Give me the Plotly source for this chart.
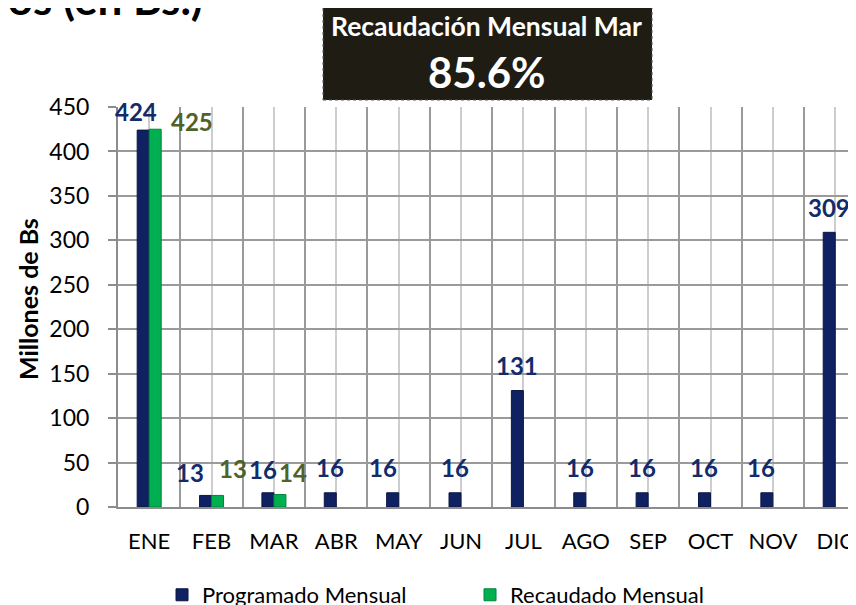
import plotly.graph_objects as go

# ---------------- data ----------------
meses = ["ENE", "FEB", "MAR", "ABR", "MAY", "JUN", "JUL", "AGO", "SEP", "OCT", "NOV", "DIC"]
programado = [424, 13, 16, 16, 16, 16, 131, 16, 16, 16, 16, 309]
recaudado = [425, 13, 14, None, None, None, None, None, None, None, None, None]
y_ticks = [0, 50, 100, 150, 200, 250, 300, 350, 400, 450]
titulo = "Recaudación Mensual de Tributos (en Bs.)"
caja_titulo = "Recaudación Mensual Mar"
caja_valor = "85.6%"

# ---------------- style ----------------
FONT = "Lato, Carlito, Calibri, sans-serif"
NAVY = "#0f2161"
GREEN = "#00b050"
NAVY_TXT = "#112b6b"
GREEN_TXT = "#4f6228"
BARGAP = 0.615
half = (1 - BARGAP) / 4  # centre offset of each bar in a 2-bar group

# label nudges in pixels (dx, dy above bar top)
navy_nudge = {0: (-7, 19), 1: (-16, 23), 2: (-5, 23), 4: (-10, 25), 10: (-6, 25)}
green_nudge = {0: (37, 8), 1: (15, 27), 2: (13, 22)}

x = list(range(len(meses)))

fig = go.Figure()
fig.add_trace(go.Bar(
    x=x, y=programado, name="Programado Mensual",
    marker=dict(color=NAVY, line=dict(color="#0a1745", width=1)),
))
fig.add_trace(go.Bar(
    x=x, y=recaudado, name="Recaudado Mensual",
    marker=dict(color=GREEN, line=dict(color="#00843c", width=1)),
))

annotations = []
for i, v in enumerate(programado):
    dx, dy = navy_nudge.get(i, (0, 25))
    annotations.append(dict(
        x=i - half, y=v, xref="x", yref="y", text=f"<b>{v}</b>", showarrow=False,
        xanchor="center", yanchor="middle", xshift=dx, yshift=dy,
        font=dict(family=FONT, size=24, color=NAVY_TXT)))
for i, v in enumerate(recaudado):
    if v is None:
        continue
    dx, dy = green_nudge.get(i, (0, 25))
    annotations.append(dict(
        x=i + half, y=v, xref="x", yref="y", text=f"<b>{v}</b>", showarrow=False,
        xanchor="center", yanchor="middle", xshift=dx, yshift=dy,
        font=dict(family=FONT, size=24, color=GREEN_TXT)))

# y-axis title
annotations.append(dict(
    x=-0.122, y=0.52, xref="paper", yref="paper", text="<b>Millones de Bs</b>",
    textangle=-90, showarrow=False, xanchor="center", yanchor="middle",
    font=dict(family=FONT, size=25, color="#000000")))

# cropped main title
annotations.append(dict(
    x=0.1179, y=1.272, xref="paper", yref="paper", text=f"<b>{titulo}</b>",
    showarrow=False, xanchor="right", yanchor="middle",
    font=dict(family=FONT, size=44, color="#000000")))

# dark box texts
annotations.append(dict(
    x=0.4994, y=1.202, xref="paper", yref="paper", text=f"<b>{caja_titulo}</b>",
    showarrow=False, xanchor="center", yanchor="middle",
    font=dict(family=FONT, size=26.5, color="#ffffff")))
annotations.append(dict(
    x=0.4994, y=1.088, xref="paper", yref="paper", text=f"<b>{caja_valor}</b>",
    showarrow=False, xanchor="center", yanchor="middle",
    font=dict(family=FONT, size=42, color="#ffffff")))

shapes = [dict(
    type="rect", xref="paper", yref="paper",
    x0=0.2778, x1=0.7236, y0=1.0175, y1=1.255,
    fillcolor="#1f1c13", line=dict(color="#555555", width=1, dash="dot"),
    layer="above")]

# the page adds an 8 px body margin, so the figure is laid out 8 px smaller
fig.update_layout(
    width=848, height=597,
    margin=dict(l=110, r=0, t=99, b=98, autoexpand=False),
    paper_bgcolor="#ffffff", plot_bgcolor="#ffffff",
    barmode="group", bargap=BARGAP, bargroupgap=0,
    font=dict(family=FONT, size=22, color="#000000"),
    showlegend=True,
    legend=dict(orientation="h", x=0.477, xanchor="center",
                y=0.0168, yref="container", yanchor="middle",
                font=dict(family=FONT, size=22, color="#000000"),
                entrywidth=263, entrywidthmode="pixels", bgcolor="rgba(0,0,0,0)"),
    annotations=annotations,
    shapes=shapes,
)

fig.update_xaxes(
    range=[-0.5, 11.333], tickmode="array", tickvals=x, ticktext=meses,
    showgrid=True, gridcolor="#cdcdcd", gridwidth=2,
    minor=dict(tickmode="array", tickvals=[i - 0.5 for i in range(len(meses) + 1)],
               showgrid=True, gridcolor="#9a9a9a", gridwidth=2, ticks=""),
    showline=True, linecolor="#8c8c8c", linewidth=2,
    ticks="", ticklabelstandoff=14,
    tickfont=dict(family=FONT, size=22, color="#000000"),
    zeroline=False, fixedrange=True, automargin=False,
)
fig.update_yaxes(
    range=[0, 450], tickmode="array", tickvals=y_ticks,
    showgrid=True, gridcolor="#9a9a9a", gridwidth=2,
    showline=True, linecolor="#8c8c8c", linewidth=2,
    ticks="outside", ticklen=22, tickcolor="rgba(0,0,0,0)",
    minor=dict(tickmode="array", tickvals=y_ticks, ticks="outside", ticklen=8,
               tickcolor="#8c8c8c", tickwidth=2, showgrid=False),
    tickfont=dict(family=FONT, size=23, color="#000000"),
    zeroline=False, automargin=False,
)

fig.write_html("out.html")
